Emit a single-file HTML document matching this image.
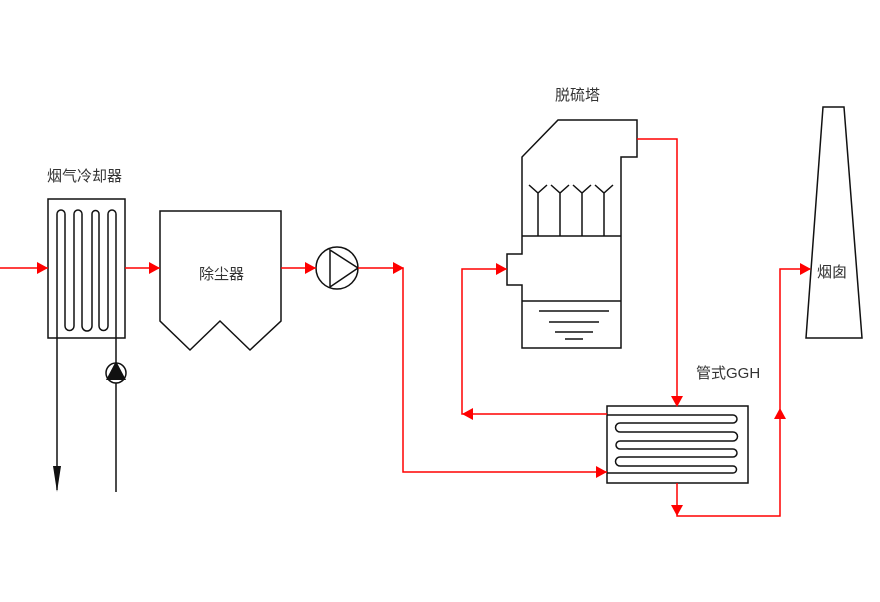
<!DOCTYPE html>
<html><head><meta charset="utf-8"><style>
html,body{margin:0;padding:0;background:#fff}
svg{display:block}
text{font-family:"Liberation Sans","Noto Sans CJK SC",sans-serif;font-size:15px;fill:#333}
</style></head><body>
<svg width="880" height="602" viewBox="0 0 880 602" xmlns="http://www.w3.org/2000/svg">
<g fill="none" stroke="#111" stroke-width="1.5">
<!-- cooler -->
<rect x="48" y="199" width="77" height="139"/>
<path d="M57,490 V214 A4,4 0 0 1 65,214 V326 A4.5,4.5 0 0 0 74,326 V214 A4,4 0 0 1 82,214 V326 A5,5 0 0 0 92,326 V214 A3.5,3.5 0 0 1 99,214 V326 A4.5,4.5 0 0 0 108,326 V214 A4,4 0 0 1 116,214 V492"/>
<!-- dust collector -->
<path d="M160,211 H281 V321 L250,350 L220,321 L190,350 L160,321 Z"/>
<!-- fan -->
<circle cx="337" cy="268" r="21"/>
<path d="M330,250 L358,268 L330,287 Z"/>
<!-- absorber -->
<path d="M558,120 H637 V157 H621 V348 H522 V285 H507 V254 H522 V157 Z"/>
<path d="M522,236 H621 M522,301 H621"/>
<path d="M538,236 V193 M529,185 L538,193 L547,185 M560,236 V193 M551,185 L560,193 L569,185 M582,236 V193 M573,185 L582,193 L591,185 M604,236 V193 M595,185 L604,193 L613,185"/>
<path d="M539,311 H609 M549,322 H599 M555,332 H593 M565,339 H583"/>
<!-- GGH -->
<rect x="607" y="406" width="141" height="77"/>
<path d="M607,415 H733 A4,4 0 0 1 733,423 H620 A4.5,4.5 0 0 0 620,432 H733 A4.5,4.5 0 0 1 733,441 H620 A4,4 0 0 0 620,449 H733 A4,4 0 0 1 733,457 H620 A4.5,4.5 0 0 0 620,466 H733 A3.5,3.5 0 0 1 733,473 H607"/>
<!-- chimney -->
<path d="M823,107 H844 L862,338 H806 Z"/>
</g>
<!-- small pump -->
<circle cx="116" cy="373" r="10" fill="#fff" stroke="#111" stroke-width="1.5"/>
<path d="M106,380 L116,361 L126,380 Z" fill="#111"/>
<path d="M53,466 L57,492 L61,466 Z" fill="#111"/>
<!-- red lines -->
<g fill="none" stroke="#f00" stroke-width="1.5">
<path d="M0,268 H48 M125,268 H160 M281,268 H316 M358,268 H403 V472 H607"/>
<path d="M637,139 H677 V406"/>
<path d="M607,414 H462 V269 H507"/>
<path d="M677,483 V516 H780 V269 H810"/>
</g>
<g fill="#f00">
<path d="M37,262 L48,268 L37,274 Z"/>
<path d="M149,262 L160,268 L149,274 Z"/>
<path d="M305,262 L316,268 L305,274 Z"/>
<path d="M393,262 L404,268 L393,274 Z"/>
<path d="M596,466 L607,472 L596,478 Z"/>
<path d="M671,396 L677,407 L683,396 Z"/>
<path d="M473,408 L462,414 L473,420 Z"/>
<path d="M496,263 L507,269 L496,275 Z"/>
<path d="M671,505 L677,516 L683,505 Z"/>
<path d="M774,419 L780,408 L786,419 Z"/>
<path d="M800,263 L811,269 L800,275 Z"/>
</g>
<text x="47" y="181">烟气冷却器</text>
<text x="199" y="279">除尘器</text>
<text x="555" y="100">脱硫塔</text>
<text x="696" y="378">管式GGH</text>
<text x="817" y="277">烟囱</text>
</svg>
</body></html>
